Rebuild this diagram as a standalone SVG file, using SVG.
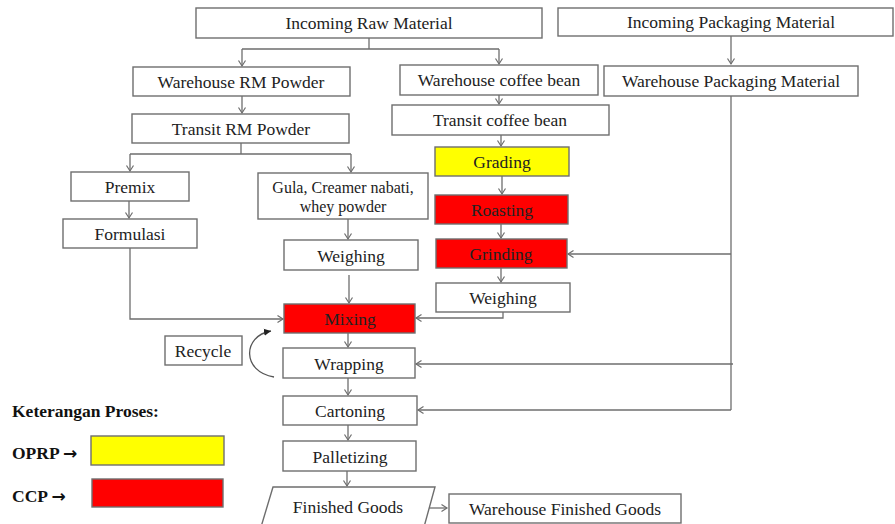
<svg xmlns="http://www.w3.org/2000/svg" width="895" height="524" viewBox="0 0 895 524">
<defs>
<style>
.b{fill:#fff;stroke:#6e6e6e;stroke-width:1.4}
.y{fill:#ffff00;stroke:#6e6e6e;stroke-width:1.4}
.r{fill:#ff0000;stroke:#6e6e6e;stroke-width:1.4}
.t{font-family:"Liberation Serif","Times New Roman",serif;font-size:17.5px;fill:#222;text-anchor:middle;dominant-baseline:central}
.s{font-size:16px}
.l{font-family:"Liberation Serif","Times New Roman",serif;font-size:17.5px;font-weight:bold;fill:#111;dominant-baseline:central}
.ar{font-family:"DejaVu Sans",sans-serif;font-weight:bold;font-size:17px}
.c{fill:none;stroke:#6e6e6e;stroke-width:1.3}
</style>
<marker id="a" markerUnits="userSpaceOnUse" markerWidth="10" markerHeight="10" refX="6" refY="4" orient="auto" viewBox="0 0 10 8">
<path d="M0.5,0.5 L6,4 L0.5,7.5" fill="none" stroke="#6e6e6e" stroke-width="1.2"/>
</marker>
<marker id="f" markerUnits="userSpaceOnUse" markerWidth="10" markerHeight="10" refX="7" refY="3.5" orient="auto" viewBox="0 0 10 7">
<path d="M0,0 L7,3.5 L0,7 Z" fill="#222"/>
</marker>
</defs>
<g id="connectors">
<path class="c" d="M369,38 V49 M242,49 H499" />
<path class="c" d="M242,49 V66" marker-end="url(#a)"/>
<path class="c" d="M499,49 V64" marker-end="url(#a)"/>
<path class="c" d="M242,96 V113" marker-end="url(#a)"/>
<path class="c" d="M241,143 V154 M130,154 H351"/>
<path class="c" d="M130,154 V171" marker-end="url(#a)"/>
<path class="c" d="M351,154 V172" marker-end="url(#a)"/>
<path class="c" d="M129,201 V218" marker-end="url(#a)"/>
<path class="c" d="M130,248 V319 H283" marker-end="url(#a)"/>
<path class="c" d="M348,219 V239" marker-end="url(#a)"/>
<path class="c" d="M349,275 V303" marker-end="url(#a)"/>
<path class="c" d="M348,333 V347" marker-end="url(#a)"/>
<path class="c" d="M348,378 V395" marker-end="url(#a)"/>
<path class="c" d="M348,425 V440" marker-end="url(#a)"/>
<path class="c" d="M347,471 V486" marker-end="url(#a)"/>
<path class="c" d="M428,508 H447" marker-end="url(#a)"/>
<path class="c" d="M499,95 V104" marker-end="url(#a)"/>
<path class="c" d="M501,135 V146" marker-end="url(#a)"/>
<path class="c" d="M502,176 V194" marker-end="url(#a)"/>
<path class="c" d="M501,224 V238" marker-end="url(#a)"/>
<path class="c" d="M501,268 V282" marker-end="url(#a)"/>
<path class="c" d="M503,312 V318 H416" marker-end="url(#a)"/>
<path class="c" d="M731,36 V64" marker-end="url(#a)"/>
<path class="c" d="M731,96 V410"/>
<path class="c" d="M731,254 H568" marker-end="url(#a)"/>
<path class="c" d="M733,364 H416" marker-end="url(#a)"/>
<path class="c" d="M731,410 H418" marker-end="url(#a)"/>
<path d="M274,377 C242,372 242,336 271,331" fill="none" stroke="#555" stroke-width="1.3" marker-end="url(#f)"/>
</g>
<g id="incoming-raw"><rect class="b" x="196" y="8" width="346" height="30"/><text class="t" x="369" y="23">Incoming Raw Material</text></g>
<g id="incoming-packaging"><rect class="b" x="558" y="8" width="335" height="28"/><text class="t" x="731" y="22">Incoming Packaging Material</text></g>
<g id="warehouse-rm"><rect class="b" x="133" y="67" width="217" height="29"/><text class="t" x="241" y="82">Warehouse RM Powder</text></g>
<g id="transit-rm"><rect class="b" x="132" y="114" width="217" height="29"/><text class="t" x="241" y="129">Transit RM Powder</text></g>
<g id="warehouse-coffee"><rect class="b" x="400" y="65" width="198" height="30"/><text class="t" x="499" y="80">Warehouse coffee bean</text></g>
<g id="transit-coffee"><rect class="b" x="392" y="105" width="217" height="30"/><text class="t" x="500" y="120">Transit coffee bean</text></g>
<g id="warehouse-packaging"><rect class="b" x="604" y="66" width="254" height="30"/><text class="t" x="731" y="81">Warehouse Packaging Material</text></g>
<g id="premix"><rect class="b" x="71" y="172" width="118" height="29"/><text class="t" x="130" y="187">Premix</text></g>
<g id="formulasi"><rect class="b" x="63" y="219" width="134" height="29"/><text class="t" x="130" y="234">Formulasi</text></g>
<g id="gula"><rect class="b" x="258" y="173" width="170" height="46"/><text class="t s" x="343" y="187">Gula, Creamer nabati,</text><text class="t s" x="343" y="206">whey powder</text></g>
<g id="weighing-left"><rect class="b" x="284" y="240" width="134" height="30"/><text class="t" x="351" y="256">Weighing</text></g>
<g id="grading"><rect class="y" x="435" y="147" width="134" height="29"/><text class="t" x="502" y="162">Grading</text></g>
<g id="roasting"><rect class="r" x="435" y="195" width="133" height="29"/><text class="t" x="502" y="210">Roasting</text></g>
<g id="grinding"><rect class="r" x="436" y="239" width="131" height="29"/><text class="t" x="501" y="254">Grinding</text></g>
<g id="weighing-right"><rect class="b" x="436" y="283" width="134" height="29"/><text class="t" x="503" y="298">Weighing</text></g>
<g id="mixing"><rect class="r" x="284" y="304" width="131" height="29"/><text class="t" x="350" y="319">Mixing</text></g>
<g id="recycle"><rect class="b" x="165" y="336" width="77" height="29"/><text class="t" x="203" y="351">Recycle</text></g>
<g id="wrapping"><rect class="b" x="283" y="348" width="132" height="30"/><text class="t" x="349" y="364">Wrapping</text></g>
<g id="cartoning"><rect class="b" x="283" y="396" width="134" height="29"/><text class="t" x="350" y="411">Cartoning</text></g>
<g id="palletizing"><rect class="b" x="283" y="441" width="133" height="30"/><text class="t" x="350" y="457">Palletizing</text></g>
<g id="finished-goods"><polygon class="b" points="273,487 435,487 424,527 261,527"/><text class="t" x="348" y="507">Finished Goods</text></g>
<g id="warehouse-finished"><rect class="b" x="449" y="494" width="232" height="29"/><text class="t" x="565" y="509">Warehouse Finished Goods</text></g>
<g id="legend">
<text class="l" x="12" y="411">Keterangan Proses:</text>
<text class="l" x="12" y="453">OPRP <tspan class="ar">→</tspan></text>
<rect class="y" x="91" y="436" width="133" height="29"/>
<text class="l" x="12" y="496">CCP <tspan class="ar">→</tspan></text>
<rect class="r" x="92" y="479" width="131" height="28"/>
</g>
</svg>
